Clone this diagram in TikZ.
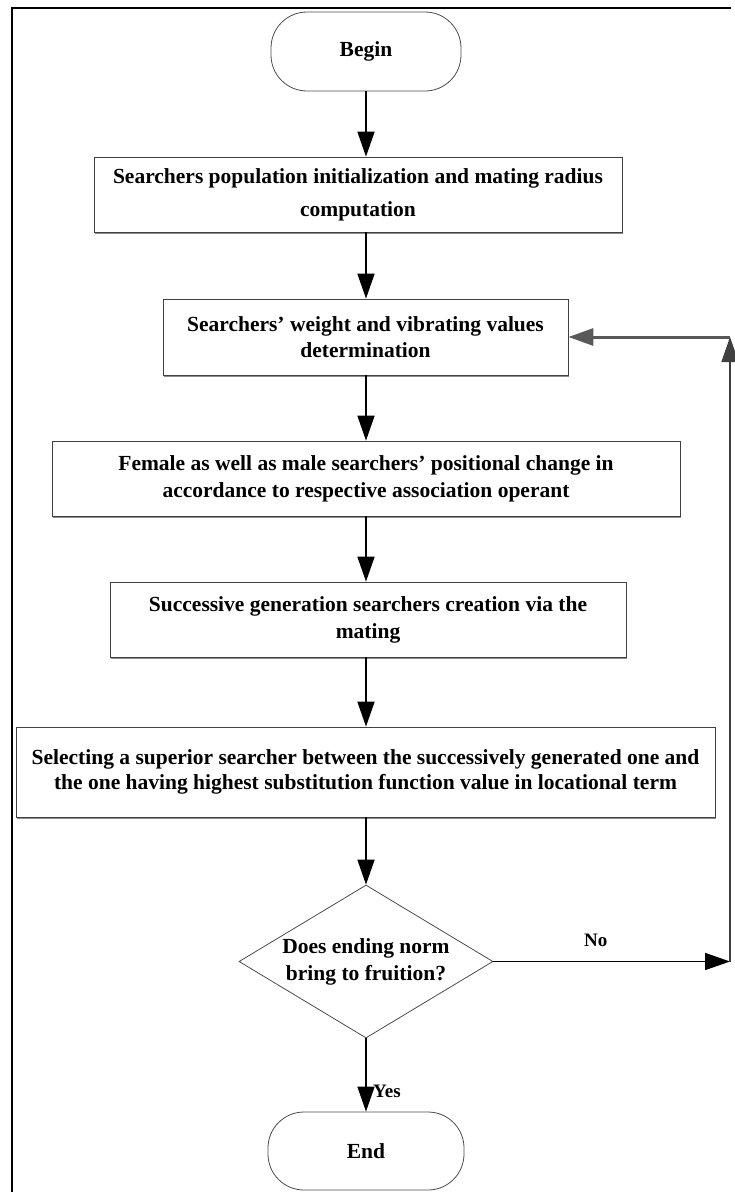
\documentclass[tikz,border=0pt]{standalone}
\usepackage{fontspec}
\setmainfont{Liberation Serif}
\usetikzlibrary{arrows.meta,shapes.geometric,shadows}

\begin{document}
\begin{tikzpicture}[x=1pt,y=-1pt,
  txt/.style={font=\bfseries\fontsize{21.5}{27}\selectfont, align=center},
  procbox/.style={txt, draw=black!75, line width=0.8pt, fill=white, inner sep=0pt,
    drop shadow={shadow xshift=1.2pt, shadow yshift=-2pt, fill=black!45, opacity=1}},
  term/.style={txt, draw=black!70, line width=0.8pt, rounded corners=36pt, inner sep=0pt},
  decision/.style={txt, diamond, draw=black!70, line width=0.8pt, inner sep=0pt, aspect=1.66},
  flow/.style={line width=1.7pt, -{Triangle[length=25pt,width=17pt]}},
  lbl/.style={font=\bfseries\fontsize{19}{22}\selectfont},
]
\useasboundingbox (0,0) rectangle (735,1192);

% outer frame (top and left edges)
\draw[line width=2.6pt] (12,1192) -- (12,8) -- (731,8);

% terminals, process boxes and the decision
\node[term, minimum width=190pt, minimum height=79pt] (begin) at (366,51.5) {Begin};
\node[procbox, minimum width=528pt, minimum height=75pt,
  font=\bfseries\fontsize{21.5}{33}\selectfont] (init) at (358,194.5)
  {Searchers population initialization and mating radius\\computation};
\node[procbox, minimum width=405pt, minimum height=76pt,
  font=\bfseries\fontsize{21.5}{26}\selectfont] (weight) at (365.5,337)
  {Searchers' weight and vibrating values\\determination};
\node[procbox, minimum width=628pt, minimum height=75pt] (move) at (366,478.5)
  {Female as well as male searchers' positional change in\\accordance to respective association operant};
\node[procbox, minimum width=516pt, minimum height=75pt] (mate) at (368,619.5)
  {Successive generation searchers creation via the\\mating};
\node[procbox, minimum width=699pt, minimum height=90pt,
  font=\bfseries\fontsize{21.5}{25}\selectfont] (select) at (365.5,772)
  {Selecting a superior searcher between the successively generated one and\\the one having highest substitution function value in locational term};
\node[decision, minimum width=254pt, minimum height=153pt] (check) at (366,961.5)
  {Does ending norm\\bring to fruition?};
\node[term, minimum width=196pt, minimum height=78pt] (finish) at (366,1151) {End};

% main flow
\draw[flow] (begin.south) -- (begin.south |- init.north);
\draw[flow] (begin.south |- init.south) -- (begin.south |- weight.north);
\draw[flow] (begin.south |- weight.south) -- (begin.south |- move.north);
\draw[flow] (begin.south |- move.south) -- (begin.south |- mate.north);
\draw[flow] (begin.south |- mate.south) -- (begin.south |- select.north);
\draw[flow] (begin.south |- select.south) -- (check.north);
\draw[flow] (check.south) -- (finish.north)
  node[lbl, pos=0.72, right=3pt] {Yes};

% loop back when the criterion is not met
\coordinate (loopbot) at (730,961.5);
\coordinate (looptop) at (730,337);
\draw[flow] (check.east) -- (loopbot) node[lbl, midway, above=11pt, xshift=-16pt] {No};
\draw[flow, draw=black!75, line width=1.4pt] (loopbot) -- (looptop);
\draw[flow, draw=black!65, line width=3pt] (looptop) -- (weight.east);
\end{tikzpicture}
\end{document}
